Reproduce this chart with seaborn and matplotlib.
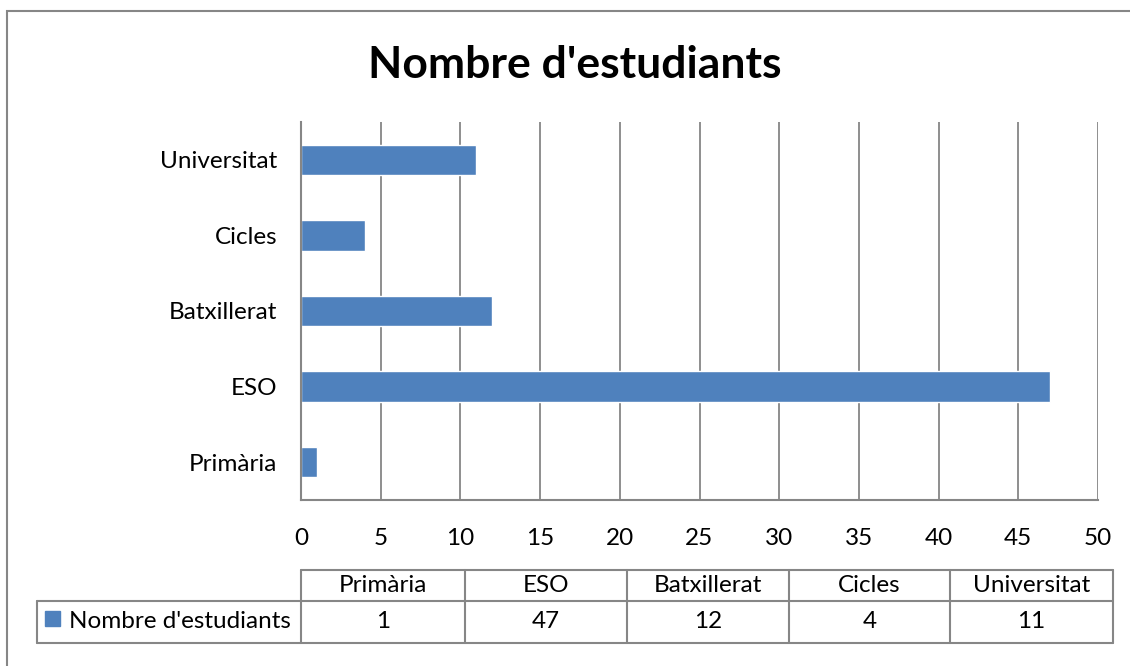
import seaborn as sns
import pandas as pd
import matplotlib.pyplot as plt
from matplotlib.patches import Rectangle

categories = ["Primària", "ESO", "Batxillerat", "Cicles", "Universitat"]
values = [1, 47, 12, 4, 11]
series_name = "Nombre d'estudiants"
x_ticks = [0, 5, 10, 15, 20, 25, 30, 35, 40, 45, 50]

W, H = 1130, 666
bar_color = "#4F81BD"
line_color = "#868686"

df = pd.DataFrame({"cat": categories, "val": values})

sns.set_theme(style="white")
plt.rcParams["font.family"] = ["Lato", "DejaVu Sans"]
plt.rcParams["text.color"] = "black"

fig = plt.figure(figsize=(W / 100, H / 100), dpi=100)


def fx(px):
    return px / W


def fy(py):
    return 1 - py / H


# plot area in pixels: x 301..1098, y 122..500
ax = fig.add_axes([fx(301), fy(500), fx(1098) - fx(301), fy(122) - fy(500)])
sns.barplot(data=df, x="val", y="cat", order=categories, orient="h",
            color=bar_color, width=0.4, saturation=1, ax=ax)
ax.set_xlim(0, 50)
ax.set_ylim(-0.5, len(categories) - 0.5)  # Primària at the bottom
ax.set_xticks(x_ticks)
ax.set_xlabel("")
ax.set_ylabel("")
ax.tick_params(axis="both", length=0, labelsize=17.5, colors="black")
ax.tick_params(axis="x", pad=20)
ax.tick_params(axis="y", pad=17)
ax.grid(axis="x", color=line_color, linewidth=1.3)
ax.set_axisbelow(True)
for side in ["top", "right"]:
    ax.spines[side].set_visible(False)
for side in ["left", "bottom"]:
    ax.spines[side].set_color(line_color)
    ax.spines[side].set_linewidth(1.5)

fig.text(fx(575), fy(65), "Nombre d'estudiants", ha="center", va="center",
         fontsize=32, fontweight="bold", color="black")

# outer chart border (extends past the picture on the right and bottom)
fig.patches.append(Rectangle((fx(7), fy(700)), fx(1200) - fx(7), fy(11) - fy(700),
                             transform=fig.transFigure, fill=False,
                             edgecolor=line_color, linewidth=1.5))

# data table below the chart
col_x = [301, 465, 627, 789, 950, 1113]
head_top, head_bot, row_bot = 570, 601, 643
lab_left = 37


def hline(x0, x1, y):
    fig.lines.append(plt.Line2D([fx(x0), fx(x1)], [fy(y), fy(y)], transform=fig.transFigure,
                                color=line_color, linewidth=1.5))


def vline(x, y0, y1):
    fig.lines.append(plt.Line2D([fx(x), fx(x)], [fy(y0), fy(y1)], transform=fig.transFigure,
                                color=line_color, linewidth=1.5))


hline(col_x[0], col_x[-1], head_top)
hline(lab_left, col_x[-1], head_bot)
hline(lab_left, col_x[-1], row_bot)
vline(lab_left, head_bot, row_bot)
for x in col_x:
    vline(x, head_top, row_bot)

for i, (cat, val) in enumerate(zip(categories, values)):
    cx = (col_x[i] + col_x[i + 1]) / 2
    fig.text(fx(cx), fy((head_top + head_bot) / 2), cat, ha="center", va="center",
             fontsize=17.5, color="black")
    fig.text(fx(cx), fy((head_bot + row_bot) / 2), str(val), ha="center", va="center",
             fontsize=17.5, color="black")

fig.patches.append(Rectangle((fx(45), fy(626)), fx(15), fy(0) - fy(15),
                             transform=fig.transFigure, color=bar_color))
fig.text(fx(69), fy((head_bot + row_bot) / 2), series_name, ha="left", va="center",
         fontsize=17.5, color="black")

fig.savefig("out.png", dpi=100)
